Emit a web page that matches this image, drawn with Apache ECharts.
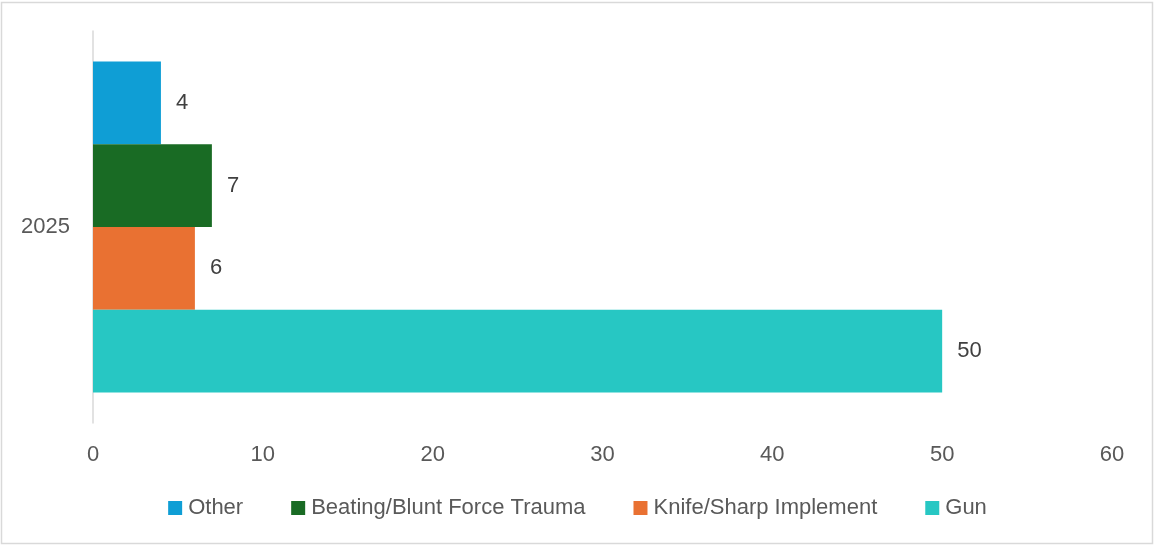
<!DOCTYPE html>
<html><head><meta charset="utf-8">
<script src="https://cdn.jsdelivr.net/npm/echarts@6/dist/echarts.min.js"></script>
<style>html,body{margin:0;padding:0;background:#fff}#c{width:1155px;height:546px}</style>
</head><body><div id="c"></div>
<script>
const categories = ['2025'];
const seriesNames = ['Other', 'Beating/Blunt Force Trauma', 'Knife/Sharp Implement', 'Gun'];
const otherValues = [4];
const beatingValues = [7];
const knifeValues = [6];
const gunValues = [50];
const colors = {'Gun':'#27c7c3','Knife/Sharp Implement':'#e97132','Beating/Blunt Force Trauma':'#196b24','Other':'#0f9ed5'};
const valuesByName = {'Gun':gunValues,'Knife/Sharp Implement':knifeValues,'Beating/Blunt Force Trauma':beatingValues,'Other':otherValues};

const FONT = '"Liberation Sans", Arial, sans-serif';
const chart = echarts.init(document.getElementById('c'), null, {renderer:'canvas'});
chart.setOption({
  animation:false,
  textStyle:{fontFamily:FONT},
  graphic:[{type:'rect',shape:{x:1.5,y:2.5,width:1151,height:541},style:{fill:'none',stroke:'#d9d9d9',lineWidth:1.5},silent:true}],
  grid:{left:93,right:43,top:31,bottom:123,containLabel:false},
  legend:{data:seriesNames,bottom:22,left:'center',itemWidth:14,itemHeight:14,itemGap:48,icon:'rect',
    textStyle:{fontSize:22,color:'#595959',fontFamily:FONT,padding:[0,0,0,1]}},
  xAxis:{type:'value',min:0,max:60,interval:10,
    axisLine:{show:false},axisTick:{show:false},splitLine:{show:false},
    axisLabel:{fontSize:22,color:'#595959',margin:21,fontFamily:FONT}},
  yAxis:{type:'category',data:categories,
    axisLine:{show:true,lineStyle:{color:'#d9d9d9',width:1.5}},axisTick:{show:false},
    axisLabel:{fontSize:22,color:'#595959',margin:23,fontFamily:FONT}},
  series:seriesNames.map(n=>({name:n,type:'bar',data:valuesByName[n],barGap:'0%',barCategoryGap:'15.5%',
    itemStyle:{color:colors[n]},
    label:{show:true,position:'right',distance:15,fontSize:22,color:'#404040',fontFamily:FONT}}))
});
</script></body></html>
